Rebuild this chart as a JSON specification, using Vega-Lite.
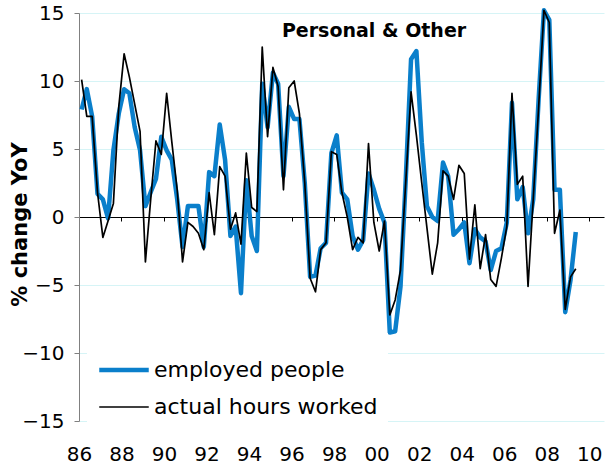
{
  "$schema": "https://vega.github.io/schema/vega-lite/v6.json",
  "width": 525,
  "height": 408,
  "autosize": {"type": "none"},
  "padding": {"left": 79, "top": 13, "right": 2, "bottom": 47},
  "background": "white",
  "config": {"view": {"stroke": null}, "font": "DejaVu Sans"},
  "data": {"values": [
    {"date": "1986-02-15", "employed people": 7.9, "actual hours worked": 10.1},
    {"date": "1986-05-15", "employed people": 9.4, "actual hours worked": 7.4},
    {"date": "1986-08-15", "employed people": 7.4, "actual hours worked": 7.4},
    {"date": "1986-11-15", "employed people": 1.7, "actual hours worked": 1.8},
    {"date": "1987-02-15", "employed people": 1.3, "actual hours worked": -1.5},
    {"date": "1987-05-15", "employed people": -0.1, "actual hours worked": -0.3},
    {"date": "1987-08-15", "employed people": 4.9, "actual hours worked": 1.0},
    {"date": "1987-11-15", "employed people": 7.6, "actual hours worked": 8.1},
    {"date": "1988-02-15", "employed people": 9.4, "actual hours worked": 12.0},
    {"date": "1988-05-15", "employed people": 9.1, "actual hours worked": 10.3},
    {"date": "1988-08-15", "employed people": 6.6, "actual hours worked": 8.3},
    {"date": "1988-11-15", "employed people": 4.9, "actual hours worked": 6.3},
    {"date": "1989-02-15", "employed people": 0.8, "actual hours worked": -3.3},
    {"date": "1989-05-15", "employed people": 1.8, "actual hours worked": 1.2},
    {"date": "1989-08-15", "employed people": 2.8, "actual hours worked": 5.6},
    {"date": "1989-11-15", "employed people": 5.9, "actual hours worked": 4.6},
    {"date": "1990-02-15", "employed people": 4.9, "actual hours worked": 9.1},
    {"date": "1990-05-15", "employed people": 4.2, "actual hours worked": 5.5},
    {"date": "1990-08-15", "employed people": 1.3, "actual hours worked": 2.0},
    {"date": "1990-11-15", "employed people": -2.2, "actual hours worked": -3.3},
    {"date": "1991-02-15", "employed people": 0.8, "actual hours worked": -0.4},
    {"date": "1991-05-15", "employed people": 0.8, "actual hours worked": -0.7},
    {"date": "1991-08-15", "employed people": 0.8, "actual hours worked": -1.2},
    {"date": "1991-11-15", "employed people": -2.2, "actual hours worked": -2.4},
    {"date": "1992-02-15", "employed people": 3.3, "actual hours worked": 1.8},
    {"date": "1992-05-15", "employed people": 3.0, "actual hours worked": -1.3},
    {"date": "1992-08-15", "employed people": 6.8, "actual hours worked": 3.7},
    {"date": "1992-11-15", "employed people": 4.2, "actual hours worked": 3.0},
    {"date": "1993-02-15", "employed people": -1.4, "actual hours worked": -0.9},
    {"date": "1993-05-15", "employed people": -0.7, "actual hours worked": 0.3},
    {"date": "1993-08-15", "employed people": -5.6, "actual hours worked": -2.0},
    {"date": "1993-11-15", "employed people": 2.7, "actual hours worked": 4.7},
    {"date": "1994-02-15", "employed people": -1.4, "actual hours worked": 0.7},
    {"date": "1994-05-15", "employed people": -2.5, "actual hours worked": 0.4},
    {"date": "1994-08-15", "employed people": 9.8, "actual hours worked": 12.5},
    {"date": "1994-11-15", "employed people": 6.6, "actual hours worked": 5.9},
    {"date": "1995-02-15", "employed people": 10.6, "actual hours worked": 11.0},
    {"date": "1995-05-15", "employed people": 9.8, "actual hours worked": 9.6},
    {"date": "1995-08-15", "employed people": 3.0, "actual hours worked": 2.0},
    {"date": "1995-11-15", "employed people": 8.1, "actual hours worked": 9.5},
    {"date": "1996-02-15", "employed people": 7.2, "actual hours worked": 10.0},
    {"date": "1996-05-15", "employed people": 7.2, "actual hours worked": 7.6},
    {"date": "1996-08-15", "employed people": 2.5, "actual hours worked": 2.5},
    {"date": "1996-11-15", "employed people": -4.4, "actual hours worked": -4.5},
    {"date": "1997-02-15", "employed people": -4.3, "actual hours worked": -5.5},
    {"date": "1997-05-15", "employed people": -2.3, "actual hours worked": -2.4},
    {"date": "1997-08-15", "employed people": -1.9, "actual hours worked": -1.9},
    {"date": "1997-11-15", "employed people": 4.7, "actual hours worked": 4.8},
    {"date": "1998-02-15", "employed people": 6.0, "actual hours worked": 4.6},
    {"date": "1998-05-15", "employed people": 1.8, "actual hours worked": 1.8},
    {"date": "1998-08-15", "employed people": 1.3, "actual hours worked": 0.0},
    {"date": "1998-11-15", "employed people": -1.4, "actual hours worked": -2.4},
    {"date": "1999-02-15", "employed people": -2.4, "actual hours worked": -1.5},
    {"date": "1999-05-15", "employed people": -1.7, "actual hours worked": -1.9},
    {"date": "1999-08-15", "employed people": 3.2, "actual hours worked": 5.4},
    {"date": "1999-11-15", "employed people": 2.0, "actual hours worked": -0.4},
    {"date": "2000-02-15", "employed people": 0.6, "actual hours worked": -2.5},
    {"date": "2000-05-15", "employed people": -0.4, "actual hours worked": -0.3},
    {"date": "2000-08-15", "employed people": -8.5, "actual hours worked": -7.2},
    {"date": "2000-11-15", "employed people": -8.4, "actual hours worked": -6.1},
    {"date": "2001-02-15", "employed people": -5.1, "actual hours worked": -3.9},
    {"date": "2001-05-15", "employed people": 2.7, "actual hours worked": 2.5},
    {"date": "2001-08-15", "employed people": 11.6, "actual hours worked": 9.2},
    {"date": "2001-11-15", "employed people": 12.2, "actual hours worked": 6.0},
    {"date": "2002-02-15", "employed people": 5.5, "actual hours worked": 2.5},
    {"date": "2002-05-15", "employed people": 0.8, "actual hours worked": -0.8},
    {"date": "2002-08-15", "employed people": 0.0, "actual hours worked": -4.2},
    {"date": "2002-11-15", "employed people": -0.3, "actual hours worked": -1.9},
    {"date": "2003-02-15", "employed people": 4.0, "actual hours worked": 3.4},
    {"date": "2003-05-15", "employed people": 3.0, "actual hours worked": 3.0},
    {"date": "2003-08-15", "employed people": -1.3, "actual hours worked": 1.3},
    {"date": "2003-11-15", "employed people": -0.9, "actual hours worked": 3.8},
    {"date": "2004-02-15", "employed people": -0.4, "actual hours worked": 3.2},
    {"date": "2004-05-15", "employed people": -3.4, "actual hours worked": -3.1},
    {"date": "2004-08-15", "employed people": -0.9, "actual hours worked": 0.9},
    {"date": "2004-11-15", "employed people": -1.5, "actual hours worked": -3.8},
    {"date": "2005-02-15", "employed people": -1.8, "actual hours worked": -1.3},
    {"date": "2005-05-15", "employed people": -3.9, "actual hours worked": -4.6},
    {"date": "2005-08-15", "employed people": -2.5, "actual hours worked": -5.1},
    {"date": "2005-11-15", "employed people": -2.3, "actual hours worked": -3.0},
    {"date": "2006-02-15", "employed people": -0.4, "actual hours worked": -0.7},
    {"date": "2006-05-15", "employed people": 8.4, "actual hours worked": 9.1},
    {"date": "2006-08-15", "employed people": 1.3, "actual hours worked": 2.4},
    {"date": "2006-11-15", "employed people": 2.2, "actual hours worked": 3.0},
    {"date": "2007-02-15", "employed people": -1.2, "actual hours worked": -5.1},
    {"date": "2007-05-15", "employed people": 1.3, "actual hours worked": 1.3},
    {"date": "2007-08-15", "employed people": 8.6, "actual hours worked": 8.0},
    {"date": "2007-11-15", "employed people": 15.2, "actual hours worked": 15.2},
    {"date": "2008-02-15", "employed people": 14.5, "actual hours worked": 14.3},
    {"date": "2008-05-15", "employed people": 2.0, "actual hours worked": -1.2},
    {"date": "2008-08-15", "employed people": 2.0, "actual hours worked": 0.5},
    {"date": "2008-11-15", "employed people": -7.0, "actual hours worked": -6.8},
    {"date": "2009-02-15", "employed people": -4.6, "actual hours worked": -4.4},
    {"date": "2009-05-15", "employed people": -1.1, "actual hours worked": -3.8}
  ]},
  "layer": [
    {
      "transform": [{"fold": ["employed people", "actual hours worked"], "as": ["series", "value"]}],
      "encoding": {
        "x": {
          "field": "date", "type": "temporal",
          "scale": {"type": "utc", "domain": [{"year": 1986, "month": 1, "date": 1, "utc": true}, {"year": 2010, "month": 9, "date": 12, "utc": true}]},
          "axis": {
            "title": null,
            "values": [
              {"year": 1986, "month": 1, "date": 1, "utc": true},
              {"year": 1988, "month": 1, "date": 1, "utc": true},
              {"year": 1990, "month": 1, "date": 1, "utc": true},
              {"year": 1992, "month": 1, "date": 1, "utc": true},
              {"year": 1994, "month": 1, "date": 1, "utc": true},
              {"year": 1996, "month": 1, "date": 1, "utc": true},
              {"year": 1998, "month": 1, "date": 1, "utc": true},
              {"year": 2000, "month": 1, "date": 1, "utc": true},
              {"year": 2002, "month": 1, "date": 1, "utc": true},
              {"year": 2004, "month": 1, "date": 1, "utc": true},
              {"year": 2006, "month": 1, "date": 1, "utc": true},
              {"year": 2008, "month": 1, "date": 1, "utc": true},
              {"year": 2010, "month": 1, "date": 1, "utc": true}
            ],
            "format": "%y",
            "offset": -204,
            "grid": false,
            "domainColor": "#000000",
            "domainWidth": 1,
            "tickColor": "#000000",
            "tickSize": 4,
            "labelPadding": 223,
            "labelFontSize": 20,
            "labelFont": "DejaVu Sans",
            "labelColor": "#000000",
            "labelFlush": false,
            "labelOverlap": false
          }
        },
        "y": {
          "field": "value", "type": "quantitative",
          "scale": {"domain": [-15, 15], "nice": false},
          "axis": {
            "title": "% change YoY",
            "values": [-15, -10, -5, 0, 5, 10, 15],
            "grid": true,
            "gridColor": "#d6f4f6",
            "gridWidth": 1,
            "domainColor": "#808080",
            "tickColor": "#808080",
            "tickSize": 5,
            "labelPadding": 10,
            "labelFontSize": 20,
            "labelFont": "DejaVu Sans",
            "labelColor": "#000000",
            "titleFont": "DejaVu Sans",
            "titleFontSize": 21,
            "titleFontWeight": "bold",
            "titleColor": "#000000",
            "titleAngle": -90,
            "titleX": -59,
            "titleY": 211,
            "titleAlign": "center",
            "titleBaseline": "middle"
          }
        },
        "color": {
          "field": "series", "type": "nominal",
          "scale": {"domain": ["employed people", "actual hours worked"], "range": ["#0a7fcb", "#000000"]},
          "legend": {
            "title": null,
            "orient": "none",
            "legendX": 8,
            "legendY": 320,
            "direction": "vertical",
            "symbolType": "stroke",
            "symbolSize": 2450,
            "labelFontSize": 22,
            "labelFont": "DejaVu Sans",
            "labelColor": "#000000",
            "labelOffset": 3,
            "labelLimit": 400,
            "rowPadding": 0,
            "fillColor": "white",
            "padding": 10
          }
        },
        "strokeWidth": {
          "field": "series", "type": "nominal",
          "scale": {"domain": ["employed people", "actual hours worked"], "range": [4.5, 1.7]}
        }
      },
      "layer": [
        {"transform": [{"filter": "datum.series === 'employed people'"}], "mark": {"type": "line", "strokeJoin": "round"}},
        {"transform": [{"filter": "datum.series === 'actual hours worked'"}], "mark": {"type": "line", "strokeJoin": "round"}}
      ]
    },
    {
      "data": {"values": [{"label": "Personal & Other"}]},
      "mark": {"type": "text", "font": "DejaVu Sans", "fontSize": 19, "fontWeight": "bold", "color": "#000000", "align": "center", "baseline": "alphabetic"},
      "encoding": {
        "text": {"field": "label", "type": "nominal"},
        "x": {"datum": {"year": 1999, "month": 11, "date": 18, "utc": true}, "type": "temporal"},
        "y": {"datum": 13.2, "type": "quantitative"}
      }
    }
  ]
}
